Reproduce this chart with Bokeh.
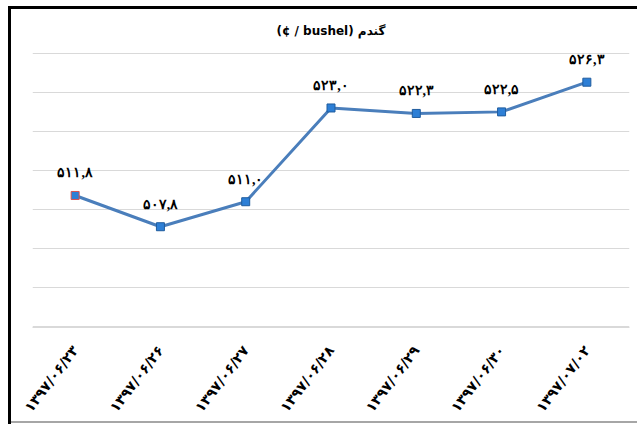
from bokeh.plotting import figure
from bokeh.models import ColumnDataSource, Range1d, FactorRange, LabelSet
from bokeh.embed import file_html
from bokeh.resources import INLINE

dates = ["۱۳۹۷/۰۶/۲۳", "۱۳۹۷/۰۶/۲۶", "۱۳۹۷/۰۶/۲۷", "۱۳۹۷/۰۶/۲۸",
         "۱۳۹۷/۰۶/۲۹", "۱۳۹۷/۰۶/۳۰", "۱۳۹۷/۰۷/۰۲"]
prices = [511.8, 507.8, 511.0, 523.0, 522.3, 522.5, 526.3]
price_labels = ["۵۱۱,۸", "۵۰۷,۸", "۵۱۱,۰", "۵۲۳,۰", "۵۲۲,۳", "۵۲۲,۵", "۵۲۶,۳"]
title_text = "(¢ / bushel) گندم"
y_grid = [495, 500, 505, 510, 515, 520, 525, 530]

FONT = "DejaVu Sans"
W, H = 637, 424

outline = ["#D9534F"] + ["#1F5C9E"] * (len(dates) - 1)
src = ColumnDataSource(dict(x=dates, y=prices, lab=price_labels, oc=outline))

p = figure(width=W, height=H, output_backend="svg", toolbar_location=None,
           x_range=FactorRange(*dates, range_padding=0),
           y_range=Range1d(494.9, 530.1),
           min_border_left=32, min_border_right=8, min_border_top=52,
           min_border_bottom=97)

p.title.text = title_text
p.title.text_font = FONT
p.title.text_font_size = "12px"
p.title.text_font_style = "bold"
p.title.text_color = "#000000"
p.title.align = "center"
p.title.standoff = 30

p.outline_line_color = None
p.yaxis.visible = False
p.xgrid.grid_line_color = None
p.ygrid.grid_line_color = "#D9D9D9"
p.ygrid.grid_line_width = 1.2
p.yaxis.ticker = y_grid

ax = p.xaxis[0]
ax.axis_line_color = "#D9D9D9"
ax.major_tick_line_color = None
ax.minor_tick_line_color = None
ax.major_label_orientation = 0.92
ax.major_label_text_font = FONT
ax.major_label_text_font_style = "bold"
ax.major_label_text_font_size = "14px"
ax.major_label_text_color = "#000000"
ax.major_label_standoff = 14

p.line("x", "y", source=src, line_color="#4A7EBB", line_width=3)
p.scatter("x", "y", source=src, marker="square", size=8,
          fill_color="#2D7FD6", line_color="oc", line_width=1)

labels = LabelSet(x="x", y="y", text="lab", source=src, text_align="center",
                  text_baseline="bottom", y_offset=15, text_font=FONT,
                  text_font_style="bold", text_font_size="14px", text_color="#000")
p.add_layout(labels)

css = """<style>
body::before { content: ""; position: fixed; left: 8px; top: 6px; right: 0; bottom: 0;
  border-top: 3px solid #000; border-left: 3px solid #000; pointer-events: none; z-index: 1000; }
body::after { content: ""; position: fixed; left: 11px; right: 0; top: 421px; height: 2px;
  background: #A6A6A6; pointer-events: none; z-index: 1000; }
</style>"""
html = file_html(p, INLINE)
html = html.replace("</head>", css + "</head>", 1)
open("out.html", "w").write(html)
